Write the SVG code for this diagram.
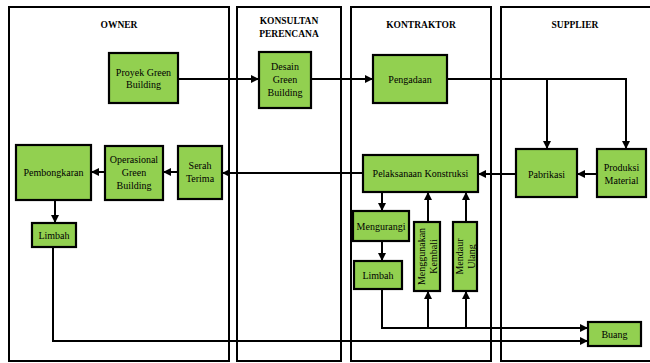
<svg xmlns="http://www.w3.org/2000/svg" width="650" height="363" viewBox="0 0 650 363">
<defs>
<marker id="ah" viewBox="0 0 10 10" refX="10" refY="5" markerWidth="8" markerHeight="8" markerUnits="userSpaceOnUse" orient="auto">
<path d="M0,0 L10,5 L0,10 Z" fill="#000"/>
</marker>
</defs>
<style>
.lane{fill:#fff;stroke:#000;stroke-width:2}
.title{font-family:"Liberation Serif",serif;font-weight:bold;font-size:9.5px;text-anchor:middle;fill:#000}
.box{fill:#92D050;stroke:#000;stroke-width:2.2}
.t{font-family:"Liberation Serif",serif;font-size:10px;text-anchor:middle;fill:#000}
.c{fill:none;stroke:#000;stroke-width:2}
.a{marker-end:url(#ah)}
</style>
<rect width="650" height="363" fill="#fff"/>
<g id="lanes">
<rect class="lane" x="9" y="7" width="220" height="354"/>
<rect class="lane" x="237" y="7" width="104" height="354"/>
<rect class="lane" x="351" y="7" width="140" height="354"/>
<rect class="lane" x="501" y="7" width="160" height="354"/>
<text class="title" x="119" y="28">OWNER</text>
<text class="title" x="289" y="23.5">KONSULTAN</text>
<text class="title" x="289" y="36.5">PERENCANA</text>
<text class="title" x="421" y="28">KONTRAKTOR</text>
<text class="title" x="575" y="28">SUPPLIER</text>
</g>
<g id="connectors">
<path class="c a" d="M178,79 H259"/>
<path class="c a" d="M311,79 H373"/>
<path class="c a" d="M447,79 H626 V149"/>
<path class="c a" d="M547,79 V149"/>
<path class="c a" d="M597,174 H577"/>
<path class="c a" d="M516,174 H478"/>
<path class="c a" d="M363,173 H222"/>
<path class="c a" d="M178,172 H163"/>
<path class="c a" d="M105,172 H91"/>
<path class="c a" d="M55,200 V223"/>
<path class="c a" d="M53,247 V341 H588"/>
<path class="c a" d="M382,192 V211"/>
<path class="c a" d="M382,241 V261"/>
<path class="c a" d="M382,289 V328 H588"/>
<path class="c a" d="M428,328 V291"/>
<path class="c a" d="M428,222 V192"/>
<path class="c a" d="M466,328 V291"/>
<path class="c a" d="M466,222 V192"/>
</g>
<g id="proyek">
<rect class="box" x="109" y="53" width="69" height="50"/>
<text class="t" x="143.5" y="75.5">Proyek Green</text>
<text class="t" x="143.5" y="88">Building</text>
</g>
<g id="desain">
<rect class="box" x="259" y="52" width="52" height="56"/>
<text class="t" x="285" y="69.5">Desain</text>
<text class="t" x="285" y="82.5">Green</text>
<text class="t" x="285" y="95.5">Building</text>
</g>
<g id="pengadaan">
<rect class="box" x="373" y="55" width="74" height="48"/>
<text class="t" x="410" y="82.5">Pengadaan</text>
</g>
<g id="pabrikasi">
<rect class="box" x="516" y="149" width="61" height="48"/>
<text class="t" x="546.5" y="177.5">Pabrikasi</text>
</g>
<g id="produksi">
<rect class="box" x="597" y="149" width="49" height="48"/>
<text class="t" x="621.5" y="171">Produksi</text>
<text class="t" x="621.5" y="183.5">Material</text>
</g>
<g id="pelaksanaan">
<rect class="box" x="363" y="155" width="115" height="37"/>
<text class="t" x="420.5" y="177">Pelaksanaan Konstruksi</text>
</g>
<g id="serah">
<rect class="box" x="178" y="146" width="44" height="53"/>
<text class="t" x="200" y="169">Serah</text>
<text class="t" x="200" y="181.5">Terima</text>
</g>
<g id="operasional">
<rect class="box" x="105" y="146" width="58" height="54"/>
<text class="t" x="134" y="163">Operasional</text>
<text class="t" x="134" y="176">Green</text>
<text class="t" x="134" y="189">Building</text>
</g>
<g id="pembongkaran">
<rect class="box" x="16" y="145" width="75" height="55"/>
<text class="t" x="53.5" y="176">Pembongkaran</text>
</g>
<g id="limbah-owner">
<rect class="box" x="32" y="223" width="44" height="24"/>
<text class="t" x="54" y="238.5">Limbah</text>
</g>
<g id="mengurangi">
<rect class="box" x="353" y="211" width="56" height="30"/>
<text class="t" x="381" y="229.5">Mengurangi</text>
</g>
<g id="limbah-kontraktor">
<rect class="box" x="354" y="261" width="48" height="28"/>
<text class="t" x="378" y="278.5">Limbah</text>
</g>
<g id="menggunakan">
<rect class="box" x="414" y="222" width="26" height="69"/>
<text class="t" transform="translate(427,256.5) rotate(-90)" x="0" y="-2.5">Menggunakan</text>
<text class="t" transform="translate(427,256.5) rotate(-90)" x="0" y="9.5">Kembali</text>
</g>
<g id="mendaur">
<rect class="box" x="453" y="222" width="24" height="69"/>
<text class="t" transform="translate(465,256.5) rotate(-90)" x="0" y="-2.5">Mendaur</text>
<text class="t" transform="translate(465,256.5) rotate(-90)" x="0" y="9.5">Ulang</text>
</g>
<g id="buang">
<rect class="box" x="588" y="322" width="53" height="24"/>
<text class="t" x="614.5" y="337.5">Buang</text>
</g>
</svg>
